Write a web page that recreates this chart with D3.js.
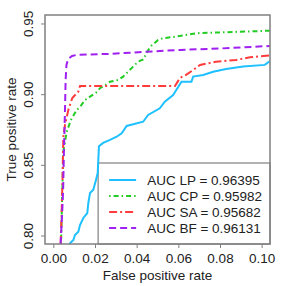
<!DOCTYPE html>
<html>
<head>
<meta charset="utf-8">
<script src="https://cdn.jsdelivr.net/npm/d3@7"></script>
<style>
  body { margin: 0; background: #fff; }
  text { font-family: "Liberation Sans", Arial, sans-serif; }
</style>
</head>
<body>
<div id="chart"></div>
<script>
// ROC curves, false positive rate vs true positive rate
const xTicks = [0.00, 0.02, 0.04, 0.06, 0.08, 0.10];
const yTicks = [0.80, 0.85, 0.90, 0.95];

const seriesNames = ['AUC LP = 0.96395', 'AUC CP = 0.95982', 'AUC SA = 0.95682', 'AUC BF = 0.96131'];

const lpFpr = [0.0077, 0.0096, 0.0104, 0.0120, 0.0128, 0.0144, 0.0163, 0.0168, 0.0176, 0.0192, 0.0205, 0.0213, 0.0219, 0.0239, 0.0272, 0.0304, 0.0328, 0.0352, 0.0431, 0.0455, 0.0511, 0.0535, 0.0575, 0.0615, 0.0663, 0.0671, 0.0719, 0.0767, 0.0829, 0.0911, 0.1015, 0.1040];
const lpTpr = [0.7940, 0.7968, 0.8004, 0.8027, 0.8074, 0.8124, 0.8159, 0.8230, 0.8301, 0.8324, 0.8395, 0.8442, 0.8631, 0.8655, 0.8676, 0.8699, 0.8723, 0.8775, 0.8805, 0.8853, 0.8900, 0.8947, 0.8994, 0.9088, 0.9088, 0.9124, 0.9136, 0.9159, 0.9178, 0.9195, 0.9207, 0.9235];

const cpFpr = [0.0037, 0.0042, 0.0047, 0.0049, 0.0064, 0.0084, 0.0112, 0.0128, 0.0152, 0.0176, 0.0210, 0.0224, 0.0263, 0.0272, 0.0311, 0.0335, 0.0383, 0.0407, 0.0431, 0.0464, 0.0503, 0.0527, 0.0589, 0.0685, 0.0829, 0.1040];
const cpTpr = [0.7940, 0.8251, 0.8534, 0.8605, 0.8732, 0.8817, 0.8888, 0.8909, 0.8959, 0.8982, 0.9016, 0.9042, 0.9077, 0.9088, 0.9100, 0.9124, 0.9195, 0.9230, 0.9245, 0.9334, 0.9384, 0.9396, 0.9407, 0.9431, 0.9438, 0.9449];

const saFpr = [0.0035, 0.0039, 0.0044, 0.0048, 0.0056, 0.0072, 0.0091, 0.0109, 0.0120, 0.0128, 0.0584, 0.0608, 0.0637, 0.0671, 0.0704, 0.0752, 0.0781, 0.0877, 0.0944, 0.1040];
const saTpr = [0.7940, 0.8110, 0.8393, 0.8697, 0.8782, 0.8888, 0.8973, 0.9001, 0.9018, 0.9058, 0.9058, 0.9115, 0.9136, 0.9171, 0.9207, 0.9221, 0.9230, 0.9242, 0.9261, 0.9275];

const bfFpr = [0.0035, 0.0037, 0.0042, 0.0047, 0.0051, 0.0056, 0.0059, 0.0063, 0.0071, 0.0090, 0.0109, 0.0176, 0.0272, 0.0431, 0.0608, 0.0800, 0.1040];
const bfTpr = [0.7940, 0.8004, 0.8145, 0.8322, 0.8605, 0.8888, 0.9100, 0.9207, 0.9249, 0.9270, 0.9277, 0.9281, 0.9285, 0.9299, 0.9313, 0.9323, 0.9341];

let margin = { top: 15, right: 16, bottom: 42, left: 45 };
let width = 286 - margin.left - margin.right;
let height = 286 - margin.top - margin.bottom;
const fontSize = 13.5;

let svg = d3.select('#chart')
    .append('svg')
    .attr('width', 286)
    .attr('height', 286)
    .append('g')
    .attr('transform', 'translate(' + margin.left + ', ' + margin.top + ')');

let xScale = d3.scaleLinear()
    .domain([-0.004, 0.104])
    .range([0, width]);
let yScale = d3.scaleLinear()
    .domain([0.794, 0.956])
    .range([height, 0]);

const axisColor = '#808080';

// axes
let xAxis = d3.axisBottom(xScale)
    .tickValues(xTicks)
    .tickFormat(d3.format('.2f'))
    .tickSize(4)
    .tickPadding(5);
let gx = svg.append('g')
    .attr('transform', `translate(0, ${height})`)
    .call(xAxis);
gx.select('.domain').remove();
gx.selectAll('line').attr('stroke', axisColor);
gx.selectAll('text').attr('font-size', fontSize).attr('fill', '#222');

let yAxis = d3.axisLeft(yScale)
    .tickValues(yTicks)
    .tickFormat(d3.format('.2f'))
    .tickSize(4);
let gy = svg.append('g').call(yAxis);
gy.select('.domain').remove();
gy.selectAll('line').attr('stroke', axisColor);
gy.selectAll('text')
    .attr('font-size', fontSize)
    .attr('fill', '#222')
    .attr('x', 0)
    .attr('dy', 0)
    .attr('text-anchor', 'middle')
    .attr('transform', 'translate(-12,0) rotate(-90)');

svg.append('text')
    .attr('x', width / 2)
    .attr('y', height + 36)
    .attr('text-anchor', 'middle')
    .attr('font-size', fontSize)
    .attr('fill', '#222')
    .text('False positive rate');

svg.append('text')
    .attr('transform', `translate(-29, ${height / 2}) rotate(-90)`)
    .attr('text-anchor', 'middle')
    .attr('font-size', fontSize)
    .attr('fill', '#222')
    .text('True positive rate');

// legend box (bottom right)
const legendColors = ['#1ec0ff', '#22cc22', '#ff3b3b', '#a020f0'];
const legendDash = [null, '1.5,3,5,3', '8,3,2,3', '7,4'];
let lgX = xScale(0.0215);
let lgY = yScale(0.8513);
svg.append('rect')
    .attr('x', lgX)
    .attr('y', lgY)
    .attr('width', width - lgX)
    .attr('height', height - lgY)
    .attr('fill', '#fff')
    .attr('stroke', axisColor)
    .attr('stroke-width', 1.2);

let legend = svg.selectAll('.legend')
    .data(seriesNames)
    .enter()
    .append('g')
    .attr('class', 'legend')
    .attr('transform', (d, i) => `translate(${lgX}, ${lgY + 17 + i * 16})`);
legend.append('line')
    .attr('x1', 11).attr('x2', 38)
    .attr('stroke', (d, i) => legendColors[i])
    .attr('stroke-width', 2)
    .attr('stroke-dasharray', (d, i) => legendDash[i]);
legend.append('text')
    .attr('x', 49)
    .attr('y', 5)
    .attr('font-size', fontSize)
    .attr('fill', '#222')
    .text(d => d);

// curves, clipped to plot area
svg.append('clipPath').attr('id', 'clip')
    .append('rect').attr('width', width).attr('height', height);

let line = d3.line()
    .x(d => xScale(d[0]))
    .y(d => yScale(d[1]));

const curves = [
    d3.zip(lpFpr, lpTpr),
    d3.zip(cpFpr, cpTpr),
    d3.zip(saFpr, saTpr),
    d3.zip(bfFpr, bfTpr)
];

svg.append('g')
    .attr('clip-path', 'url(#clip)')
    .selectAll('path')
    .data(curves)
    .enter()
    .append('path')
    .attr('d', line)
    .attr('fill', 'none')
    .attr('stroke', (d, i) => legendColors[i])
    .attr('stroke-width', 2)
    .attr('stroke-dasharray', (d, i) => legendDash[i]);

// plot frame
svg.append('rect')
    .attr('width', width)
    .attr('height', height)
    .attr('fill', 'none')
    .attr('stroke', axisColor)
    .attr('stroke-width', 1.5);
</script>
</body>
</html>
